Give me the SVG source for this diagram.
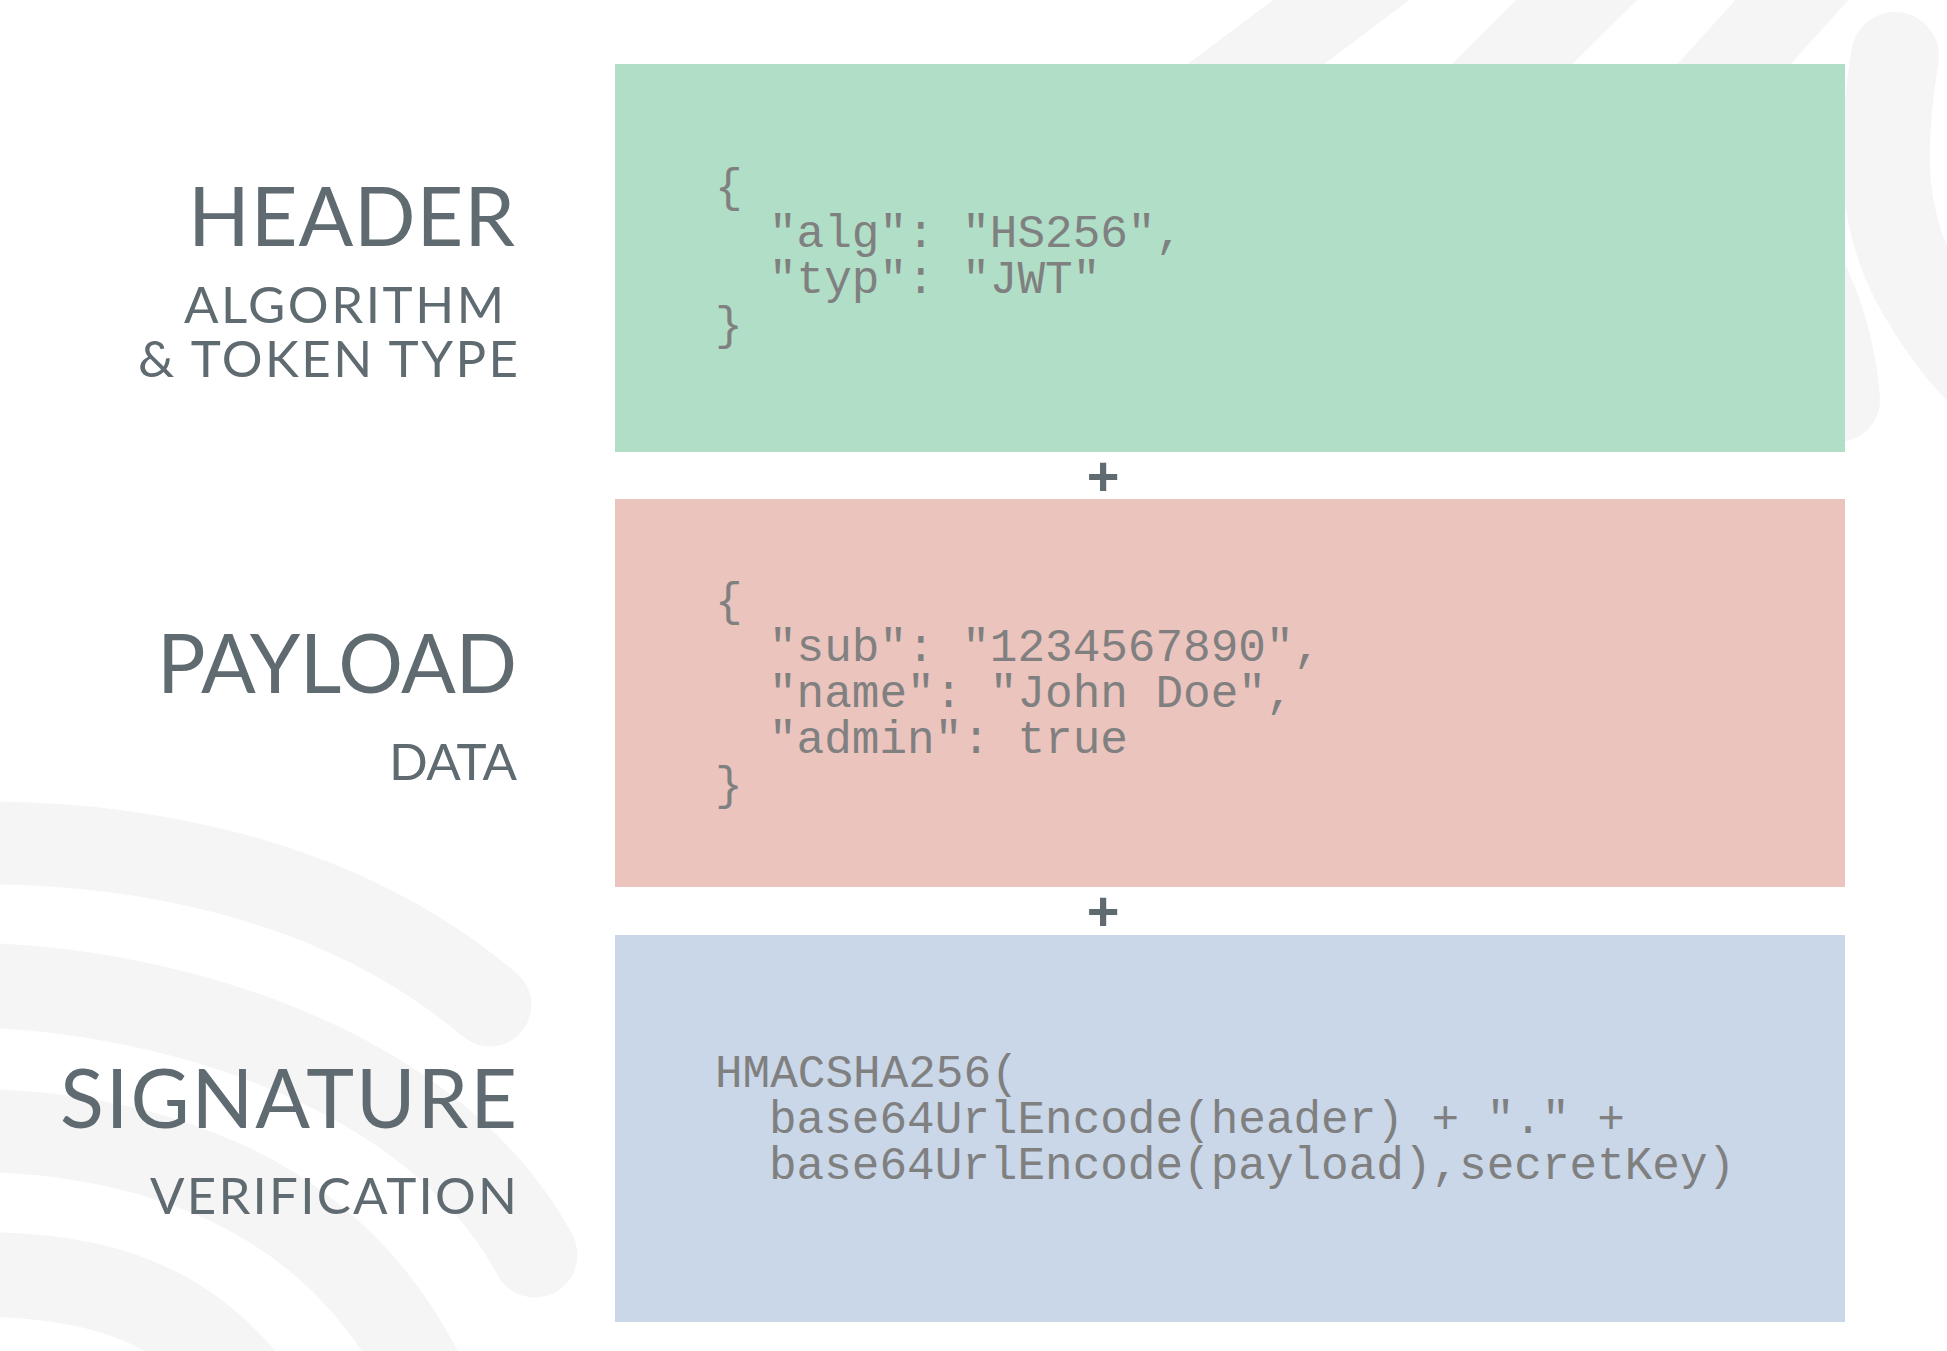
<svg xmlns="http://www.w3.org/2000/svg" width="1947" height="1351" viewBox="0 0 1947 1351">
  <style>
    .bg { fill: none; stroke: #f5f5f5; stroke-linecap: round; }
    .title { font-family: Lato, "Open Sans", sans-serif; font-size: 81px; fill: #5f6b71; }
    .sub { font-family: Lato, "Open Sans", sans-serif; font-size: 51px; fill: #5f6b71; }
    .code { font-family: "Liberation Mono", "Courier New", monospace; font-size: 46px; fill: #808080; }
    .plus { font-family: "Liberation Sans", Arial, sans-serif; font-size: 56px; font-weight: bold; fill: #5f6b71; text-anchor: middle; }
  </style>
  <rect width="1947" height="1351" fill="#ffffff"/>
  <g id="background">
    <path class="bg" stroke-width="82" d="M 1421 -60 L 1176 124"/>
    <path class="bg" stroke-width="85" d="M 1637 -60 L 1452 124"/>
    <path class="bg" stroke-width="84" d="M 1846 -60 L 1680 124"/>
    <path class="bg" stroke-width="88" d="M 1895 56 C 1880 150, 1880 220, 1920 290 S 1990 380, 2010 400"/>
    <path class="bg" stroke-width="84" d="M 1790 250 Q 1832 320, 1838 400"/>
    <path class="bg" stroke-width="83" d="M -40 843 C 120 840, 330 870, 490 1005"/>
    <path class="bg" stroke-width="85" d="M -40 985 C 150 985, 430 1060, 535 1255"/>
    <path class="bg" stroke-width="83" d="M -40 1130 C 130 1130, 340 1180, 435 1400"/>
    <path class="bg" stroke-width="85" d="M -40 1274 C 80 1274, 180 1290, 260 1400"/>
  </g>
  <g id="header">
    <rect x="615" y="64" width="1230" height="388" fill="#b0dec7"/>
    <text class="title" x="188" y="246" textLength="327">HEADER</text>
    <text class="sub"><tspan x="184" y="323" textLength="320">ALGORITHM</tspan><tspan x="138" y="377" textLength="380">&amp; TOKEN TYPE</tspan></text>
    <text class="code"><tspan x="715" y="201">{</tspan><tspan x="769" y="247">"alg": "HS256",</tspan><tspan x="769" y="293">"typ": "JWT"</tspan><tspan x="715" y="339">}</tspan></text>
  </g>
  <g id="payload">
    <rect x="615" y="499" width="1230" height="388" fill="#ebc4be"/>
    <text class="title" x="157" y="693" textLength="360">PAYLOAD</text>
    <text class="sub" x="389" y="780" textLength="128">DATA</text>
    <text class="code"><tspan x="715" y="615">{</tspan><tspan x="769" y="661">"sub": "1234567890",</tspan><tspan x="769" y="707">"name": "John Doe",</tspan><tspan x="769" y="753">"admin": true</tspan><tspan x="715" y="799">}</tspan></text>
  </g>
  <g id="signature">
    <rect x="615" y="935" width="1230" height="387" fill="#c9d7e8"/>
    <text class="title" x="60" y="1128" textLength="457">SIGNATURE</text>
    <text class="sub" x="150" y="1214" textLength="367">VERIFICATION</text>
    <text class="code"><tspan x="715" y="1087">HMACSHA256(</tspan><tspan x="769" y="1133">base64UrlEncode(header) + "." +</tspan><tspan x="769" y="1179">base64UrlEncode(payload),secretKey)</tspan></text>
  </g>
  <g id="connectors">
    <text class="plus" x="1103" y="495">+</text>
    <text class="plus" x="1103" y="930">+</text>
  </g>
</svg>
